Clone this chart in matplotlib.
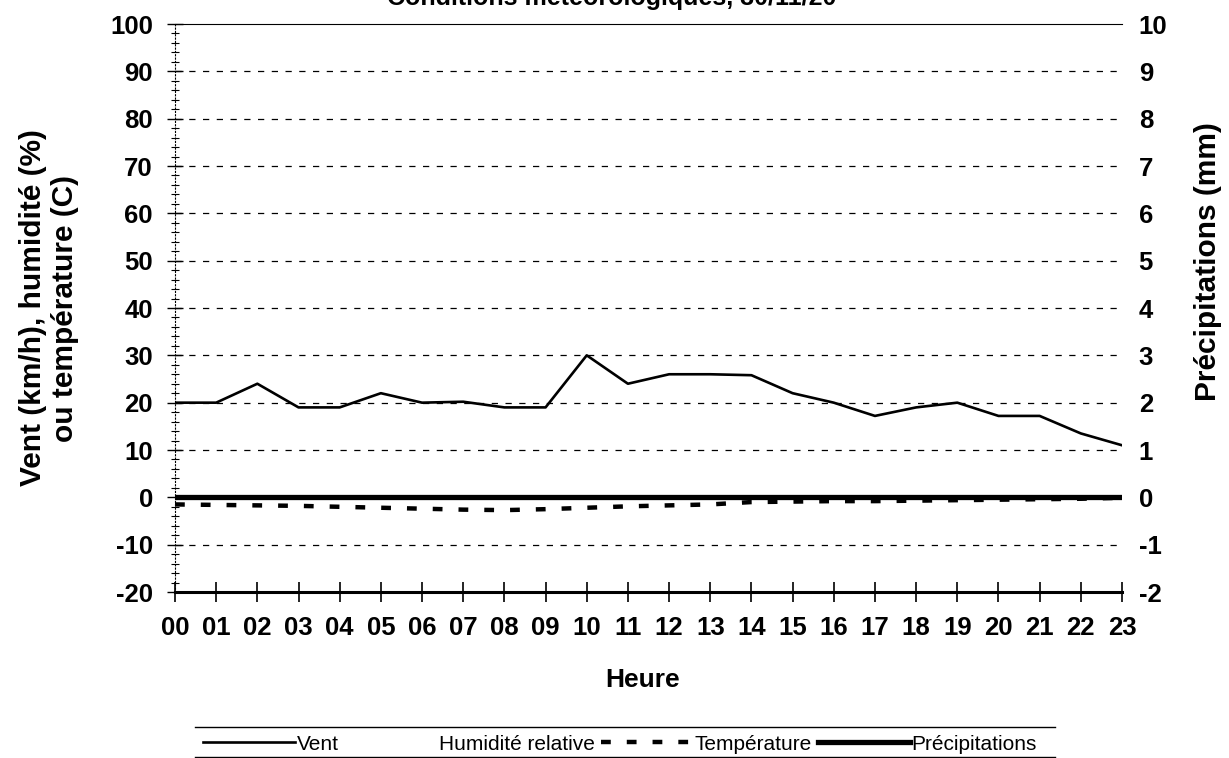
import matplotlib
matplotlib.use("Agg")
import matplotlib.pyplot as plt
import numpy as np
from matplotlib.lines import Line2D

plt.rcParams['font.family'] = ['Liberation Sans', 'DejaVu Sans']
plt.rcParams['axes.unicode_minus'] = False

hours = ["00","01","02","03","04","05","06","07","08","09","10","11",
         "12","13","14","15","16","17","18","19","20","21","22","23"]
vent = [20, 20, 24, 19, 19, 22, 20, 20.2, 19, 19, 30, 24,
        26, 26, 25.8, 22, 20, 17.2, 19, 20, 17.2, 17.2, 13.5, 11]
humidite = [np.nan] * 24
temperature = [-1.5, -1.6, -1.7, -1.8, -2.0, -2.2, -2.4, -2.6, -2.7, -2.5, -2.2, -1.9,
               -1.7, -1.5, -1.0, -0.9, -0.8, -0.8, -0.7, -0.6, -0.5, -0.4, -0.3, -0.1]
precipitations = [0] * 24

left_ticks = list(range(-20, 101, 10))
right_ticks = list(range(-2, 11, 1))

fig = plt.figure(figsize=(12.29, 7.58), dpi=100)
ax = fig.add_axes([175/1229, 1-592/758, (1122-175)/1229, (592-24)/758])
ax2 = ax.twinx()

x = np.arange(len(hours))
l_vent, = ax.plot(x, vent, color='black', lw=1.9, label='Vent', zorder=5)
l_hum, = ax.plot(x, humidite, color='none', lw=1.5, label='Humidité relative')
l_temp, = ax.plot(x, temperature, color='black', lw=3.2, linestyle=(0, (2.2, 3.6)),
                  dash_capstyle='butt', label='Température', zorder=4)
l_prec, = ax2.plot(x, precipitations, color='black', lw=3.8, label='Précipitations', zorder=6)

ax.set_xlim(0, 23)
ax.set_ylim(-20, 100)
ax2.set_ylim(-2, 10)
ax.set_yticks(left_ticks)
ax2.set_yticks(right_ticks)
ax.set_yticks(np.arange(-20, 101, 2), minor=True)
ax.set_xticks(x)
ax.set_xticklabels(hours)

for v in left_ticks[1:-1]:
    ax.axhline(v, color='black', lw=0.9, linestyle=(0, (5, 6)), zorder=1)

for s in ['left', 'right']:
    ax.spines[s].set_visible(False)
    ax2.spines[s].set_visible(False)
ax2.spines['top'].set_visible(False)
ax2.spines['bottom'].set_visible(False)
ax.spines['top'].set_linewidth(0.8)
ax.spines['bottom'].set_linewidth(2.2)
ax.spines['left'].set_visible(True)
ax.spines['left'].set_linewidth(0.8)
ax.spines['left'].set_linestyle((0, (1, 2)))

ax.tick_params(axis='x', direction='inout', length=14, width=1.2, pad=10, labelsize=18.5)
ax.tick_params(axis='y', which='major', direction='inout', length=12, width=1.0, pad=10, labelsize=18.5)
ax.tick_params(axis='y', which='minor', direction='inout', length=6, width=0.8)
ax2.tick_params(axis='y', length=0, pad=12, labelsize=18.5)
for lab in ax.get_xticklabels() + ax.get_yticklabels() + ax2.get_yticklabels():
    lab.set_fontweight('bold')

ax.set_ylabel('Vent (km/h), humidité (%)\nou température (C)', fontsize=21.5,
              fontweight='bold', linespacing=1.2)
ax.yaxis.set_label_coords((79-175)/947, 0.5)
ax2.set_ylabel('Précipitations (mm)', fontsize=21.5, fontweight='bold')
ax2.yaxis.set_label_coords((1194-175)/947, (592-262)/568)
ax.set_xlabel('Heure', fontsize=19, fontweight='bold')
ax.xaxis.set_label_coords((643-175)/947, -(668-592)/568)

fig.text(612/1229, 1-5/758, 'Conditions météorologiques, 30/11/20', ha='center',
         va='baseline', fontsize=18, fontweight='bold')

leg = fig.legend(handles=[l_vent, l_hum, l_temp, l_prec], loc='center',
                 bbox_to_anchor=(620/1229, 1-744/758), ncol=4, frameon=False,
                 fontsize=15, handlelength=4.4, handletextpad=0.1, columnspacing=0.3)
fig.add_artist(Line2D([195/1229, 1055/1229], [1-727/758, 1-727/758], color='black', lw=1.0,
                      transform=fig.transFigure))
fig.add_artist(Line2D([195/1229, 1055/1229], [1-757/758, 1-757/758], color='black', lw=1.0,
                      transform=fig.transFigure))

fig.savefig('out.png', dpi=100, facecolor='white')
